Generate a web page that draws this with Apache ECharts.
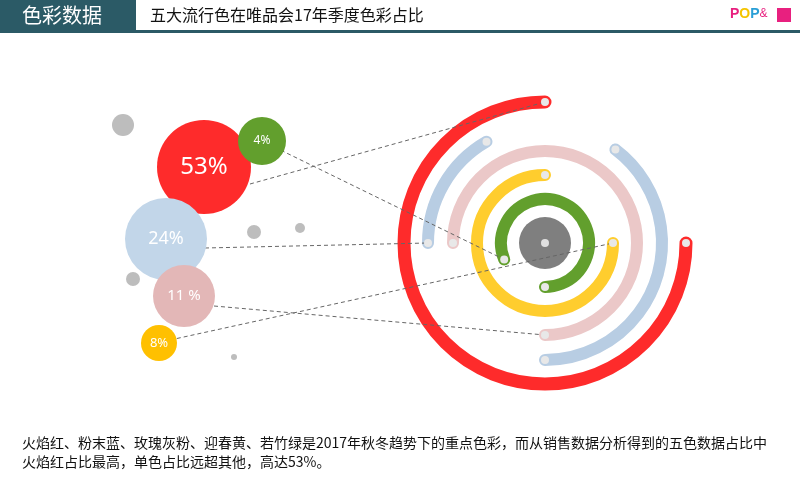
<!DOCTYPE html>
<html><head><meta charset="utf-8">
<script src="https://cdn.jsdelivr.net/npm/echarts@6/dist/echarts.min.js"></script>
<style>html,body{margin:0;padding:0;background:#fff}#c{width:800px;height:500px}</style>
</head><body><div id="c"></div>
<script>
// Rings: [name, radius(px units), startAngle, endAngle (compass deg, clockwise from top), color]
var ringNames = ['火焰红','粉末蓝','粉末蓝','玫瑰灰粉','迎春黄','若竹绿'];
var ringRadius = [141, 117, 117, 92, 68, 44];
var ringStart = [90, 37, 270, 270, 90, 248];
var ringEnd = [360, 180, 330, 540, 360, 540];
var ringColors = ['#fe2b2b','#b8cde3','#b8cde3','#ebc8c8','#ffcd2e','#629f2d'];
var ringCenter = [545, 243];
// Bubbles: [x, y, radius, label]
var bubbleX = [123, 204, 262, 166, 254, 300, 133, 184, 159, 234];
var bubbleY = [125, 167, 141, 239, 232, 228, 279, 296, 343, 357];
var bubbleR = [11, 47, 24, 41, 7, 5, 7, 31, 18, 3];
var bubbleLabels = ['', '53%', '4%', '24%', '', '', '', '11 %', '8%', ''];
var bubbleColors = ['#bdbdbd','#fe2b2b','#629f2d','#c2d6e9','#bdbdbd','#bdbdbd','#bdbdbd','#e3b7b7','#ffc000','#bdbdbd'];
var bubbleFont = [0, 24, 12, 18, 0, 0, 0, 15, 13, 0];
// Connectors: start point -> ring end point [radius, compass angle]
var linkFromX = [250, 262, 205, 214, 170];
var linkFromY = [184, 141, 248, 306, 340];
var linkToR = [141, 44, 117, 92, 68];
var linkToA = [0, 248, 270, 180, 90];
// End dots [radius, angle]
var dotR = [141,141,117,117,117,117,92,92,68,68,44,44];
var dotA = [0,90,330,270,37,180,270,180,0,90,248,180];

function pt(r,a){var t=(a-90)*Math.PI/180;return [ringCenter[0]+r*Math.cos(t), ringCenter[1]+r*Math.sin(t)];}

var chart = echarts.init(document.getElementById('c'));
var arcData = ringRadius.map(function(r,i){return [ringCenter[0],ringCenter[1],r,ringStart[i],ringEnd[i],i];});
var lineData = linkFromX.map(function(x,i){var p=pt(linkToR[i],linkToA[i]);return {coords:[[x,linkFromY[i]],p]};});
var dotData = dotR.map(function(r,i){return pt(r,dotA[i]);});
var bubbleData = bubbleX.map(function(x,i){return {value:[x,bubbleY[i]],symbolSize:bubbleR[i]*2,itemStyle:{color:bubbleColors[i],opacity:1},label:{show:!!bubbleLabels[i],formatter:bubbleLabels[i],fontSize:bubbleFont[i]}};});

chart.setOption({
  animation:false,
  grid:{left:0,right:0,top:0,bottom:0},
  xAxis:{type:'value',min:0,max:800,show:false},
  yAxis:{type:'value',min:0,max:500,inverse:true,show:false},
  graphic:[
    {type:'rect',shape:{x:0,y:30,width:800,height:3},style:{fill:'#2b5a66'}},
    {type:'rect',shape:{x:0,y:0,width:136,height:32},style:{fill:'#2b5a66'}},
    {type:'text',x:22,y:5,style:{text:'色彩数据',fill:'#fff',font:'20px "Noto Sans CJK SC"'}},
    {type:'text',x:150,y:7,style:{text:'五大流行色在唯品会17年季度色彩占比',fill:'#111',font:'16px "Noto Sans CJK SC"'}},
    {type:'text',x:730,y:7,style:{rich:{a:{fill:'#f5c400',fontWeight:'bold',fontSize:14},b:{fill:'#e8207f',fontWeight:'bold',fontSize:14},c:{fill:'#2a9fd6',fontWeight:'bold',fontSize:14},d:{fill:'#e8207f',fontSize:12}},text:'{b|P}{a|O}{c|P}{d|&}'}},
    {type:'rect',shape:{x:777,y:8,width:14,height:14},style:{fill:'#e8207f'}},
    {type:'text',x:22,y:433,style:{text:'火焰红、粉末蓝、玫瑰灰粉、迎春黄、若竹绿是2017年秋冬趋势下的重点色彩，而从销售数据分析得到的五色数据占比中\n火焰红占比最高，单色占比远超其他，高达53%。',fill:'#111',font:'14px "Noto Sans CJK SC"',lineHeight:19}}
  ],
  series:[
    {type:'custom',z:2,data:arcData,renderItem:function(params,api){
      var c=api.coord([api.value(0),api.value(1)]);var sx=api.size([1,1])[0];var r=api.value(2)*sx;
      var s=(api.value(3)-90)*Math.PI/180,e=(api.value(4)-90)*Math.PI/180;
      return {type:'arc',shape:{cx:c[0],cy:c[1],r:r,startAngle:s,endAngle:e,clockwise:true},style:{stroke:ringColors[api.value(5)],lineWidth:api.value(5)===0?13:12,lineCap:'round',fill:null}};
    }},
    {type:'scatter',z:3,data:[[ringCenter[0],ringCenter[1]]],symbolSize:52,itemStyle:{color:'#7f7f7f',opacity:1}},
    {type:'lines',coordinateSystem:'cartesian2d',z:4,data:lineData,lineStyle:{color:'#666',width:1,type:[4,3],opacity:1}},
    {type:'scatter',z:5,data:dotData,symbolSize:8,itemStyle:{color:'#e8e8e8',opacity:1}},
    {type:'scatter',z:6,data:[[ringCenter[0],ringCenter[1]]],symbolSize:8,itemStyle:{color:'#e0e0e0',opacity:1}},
    {type:'scatter',z:7,data:bubbleData,label:{position:'inside',color:'#fff',fontFamily:'Noto Sans'}}
  ]
});
</script></body></html>
